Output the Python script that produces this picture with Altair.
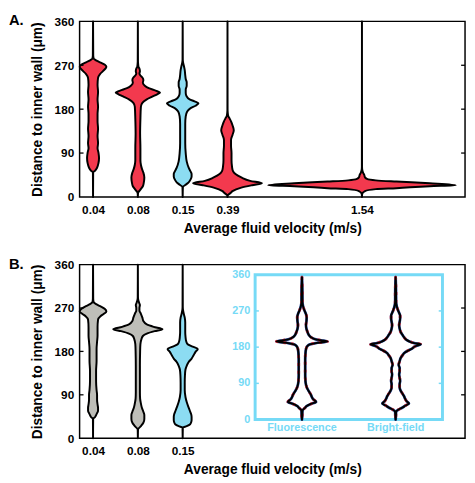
import altair as alt
import pandas as pd

FONT = "Liberation Sans"

# ---------------- data ----------------
VEL_LABELS = ["0.04", "0.08", "0.15", "0.39", "1.54"]
VEL_POS = [1, 2, 3, 4, 7]
XLIM = [0.7, 9.3]
YLIM = [0, 360]
Y_TICKS = [0, 90, 180, 270, 360]
INNER_TICKS = [90, 180, 270]

# Panel A violins: distance values (um) and half-width (relative density)
A1_V = [0, 50, 54, 60, 70, 80, 90, 100, 110, 125, 140, 155, 170, 185, 200, 215, 230, 244, 252, 258, 263, 267, 271, 276, 280, 284, 290, 360]
A1_W = [0, 0.3, 3, 5, 6.5, 7, 6.5, 5.5, 6, 5.5, 6, 5.5, 5.5, 6, 5.5, 6, 5.5, 6, 8, 11, 13.5, 14.5, 13, 8, 4, 1.5, 0.5, 0]
A2_V = [0, 8, 15, 22, 30, 40, 50, 58, 66, 75, 100, 130, 160, 185, 193, 200, 206, 211, 214, 218, 223, 228, 234, 240, 245, 249, 253, 258, 263, 267, 272, 278, 360]
A2_W = [0, 0.5, 3.5, 6, 7, 7.5, 6.5, 5, 4, 3.5, 3.5, 3.2, 3.5, 4, 5.5, 10, 16, 21, 23.5, 19, 12, 8, 6, 6.5, 5.5, 3.5, 2.5, 3, 2.5, 1.5, 0.8, 0.3, 0]
A3_V = [0, 20, 25, 30, 36, 42, 47, 52, 60, 73, 90, 110, 130, 150, 165, 175, 182, 187, 192, 196, 200, 206, 213, 220, 228, 235, 242, 250, 260, 270, 276, 282, 360]
A3_W = [0, 0.5, 4, 7, 9, 10, 10, 9, 7, 5, 4, 3.5, 3.5, 3.5, 4, 5.5, 9, 14, 17, 13, 8, 5, 4, 4, 5, 5, 4, 3.5, 3, 2, 1, 0.3, 0]
A4_V = [0, 3, 8, 12, 19, 24, 28, 33, 40, 47, 53, 62, 75, 90, 105, 117, 127, 137, 147, 155, 161, 167, 174, 180, 360]
A4_W = [0, 0.5, 4, 6, 15, 26, 36, 24, 15, 9, 6.5, 5.5, 5, 5, 4.5, 4.5, 6, 7.3, 6, 4.5, 3, 1.5, 0.5, 0.2, 0]
A5_V = [0, 6, 12, 16, 18, 22, 24, 28, 31.5, 34, 37, 41, 45, 50, 56, 62, 360]
A5_W = [0, 0.5, 4, 15, 36, 70, 96.5, 70, 36, 15, 6, 3.8, 3.3, 2, 0.7, 0.2, 0]

# Panel B violins
B1_V = [0, 40, 44, 50, 57, 63, 70, 80, 90, 100, 118, 140, 160, 185, 200, 213, 230, 246, 253, 258, 263, 268, 273, 278, 283, 290, 360]
B1_W = [0, 0.3, 3, 4.5, 6, 6, 5.5, 5, 5, 4.5, 4, 4, 4.5, 4.5, 5, 5.5, 5.5, 6, 8.5, 12, 14.5, 13, 9, 4, 1.2, 0.4, 0]
B2_V = [0, 18, 25, 32, 40, 48, 55, 63, 72, 82, 95, 120, 150, 180, 195, 205, 212, 217, 222, 226, 231, 236, 243, 250, 258, 265, 270, 276, 282, 288, 293, 360]
B2_W = [0, 0.4, 4, 6.5, 7.5, 7.5, 6.5, 5, 4, 3.2, 3, 3, 3, 3.2, 3.5, 4.5, 6, 10, 18, 26, 17, 10, 6.5, 5.5, 4, 2.5, 2.5, 3, 2, 0.8, 0.3, 0]
B3_V = [0, 22, 25, 29, 33, 38, 44, 50, 58, 66, 75, 85, 100, 115, 130, 142, 150, 158, 165, 172, 179, 185, 190, 195, 201, 210, 220, 230, 240, 250, 258, 266, 272, 360]
B3_W = [0, 0.4, 5, 8.5, 9.5, 10, 10, 9.5, 8, 6.5, 5, 3.8, 3, 3, 3.2, 3.7, 5, 7, 10, 12, 14, 16.3, 11, 6, 4.5, 3.8, 3.5, 3.5, 3.5, 3, 2, 0.8, 0.3, 0]
B_TICK_POS = [1, 2, 3]

# Inset violins (Fluorescence vs Bright-field)
INSET_LABELS = ["Fluorescence", "Bright-field"]
INSET_POS = [1, 2]
INSET_XLIM = [0.5, 2.5]
FL_V = [0, 10, 18, 23, 28, 34, 39, 44, 50, 56, 62, 70, 79, 87, 95, 110, 130, 150, 165, 175, 180, 184, 187, 190, 194, 197, 200, 205, 210, 218, 225, 235, 245, 255, 262, 272, 282, 292, 320, 354]
FL_W = [0, 0.8, 1, 1.5, 3.5, 6, 10, 15.3, 12.5, 11, 10, 8, 6, 5, 4.5, 4.2, 4.2, 4.2, 4.5, 5, 5.7, 7, 9, 15, 27, 20, 14, 10, 8, 6.5, 5.5, 5, 5.5, 5.7, 5, 3.3, 2, 1.2, 1, 0]
BF_V = [0, 10, 16, 20, 25, 30, 35, 40, 46, 52, 58, 64, 72, 80, 88, 96, 104, 112, 120, 128, 136, 145, 153, 160, 166, 172, 177, 181, 184, 187, 190, 194, 198, 203, 210, 218, 226, 235, 243, 251, 258, 265, 272, 282, 292, 320, 354]
BF_W = [0, 0.8, 1, 1.5, 4, 8, 11, 14.5, 12, 10.5, 9.5, 8, 6, 5, 5, 5.5, 5, 4.5, 5, 5, 4, 5, 6, 8, 10, 14, 18, 20, 23, 26.5, 20, 15, 12, 10, 8, 6, 5, 4.5, 5, 5.5, 5.5, 4.5, 3.3, 2, 1.2, 1, 0]

# ---------------- styling ----------------
RED = "#F3394E"
CYAN = "#8CDCF2"
GRAY = "#BEBEB8"
FRAME = "#76DAF6"
KINDS = ["red", "cyan", "gray"]
KIND_COLORS = [RED, CYAN, GRAY]
W = 393
HA = 179
HB = 177
MAIN_SCALE = 1 / 45.7     # density -> x units
INSET_SCALE = 1 / 95.5
EDGE = 0.9                # outline half thickness (density units)
INSET_X_DOMAIN = [-1.374, 2.741]
INSET_Y_DOMAIN = [-46.3, 385.1]


def violin_df(specs, scale):
    rows = []
    for vid, (pos, kind, vs, ws) in enumerate(specs):
        for v, w in zip(vs, ws):
            w = max(w - EDGE, 0) if w > 1.5 else w * 0.4
            rows.append({"id": vid, "kind": kind, "v": v,
                         "lo": pos - w * scale, "hi": pos + w * scale})
    return pd.DataFrame(rows)


dfA = violin_df([
    (VEL_POS[0], "red", A1_V, A1_W),
    (VEL_POS[1], "red", A2_V, A2_W),
    (VEL_POS[2], "cyan", A3_V, A3_W),
    (VEL_POS[3], "red", A4_V, A4_W),
    (VEL_POS[4], "red", A5_V, A5_W),
], MAIN_SCALE)
dfB = violin_df([
    (VEL_POS[0], "gray", B1_V, B1_W),
    (VEL_POS[1], "gray", B2_V, B2_W),
    (VEL_POS[2], "cyan", B3_V, B3_W),
], MAIN_SCALE)
dfI = violin_df([
    (INSET_POS[0], "none", FL_V, FL_W),
    (INSET_POS[1], "none", BF_V, BF_W),
], INSET_SCALE)

label_expr = " : ".join(
    f"datum.value == {p} ? '{l}'" for p, l in zip(VEL_POS, VEL_LABELS)
) + " : ''"


def main_layer(df, letter, tick_pos):
    xs = alt.Scale(domain=XLIM, nice=False, zero=False)
    ys = alt.Scale(domain=YLIM, nice=False, zero=False)
    violins = alt.Chart(df).mark_area(
        orient="horizontal", stroke="black", strokeWidth=2.0,
        strokeJoin="round", interpolate="monotone", fillOpacity=1
    ).encode(
        y=alt.Y("v:Q", scale=ys, axis=alt.Axis(
            values=Y_TICKS, title="Distance to inner wall (μm)", ticks=False,
            domain=False, grid=False, labelPadding=6, titlePadding=10)),
        x=alt.X("lo:Q", scale=xs, axis=alt.Axis(
            values=tick_pos, labelExpr=label_expr, title="Average fluid velocity (m/s)",
            ticks=False, domain=False, grid=False, labelPadding=8, titlePadding=6)),
        x2="hi:Q",
        fill=alt.Fill("kind:N", scale=alt.Scale(domain=KINDS, range=KIND_COLORS), legend=None),
        detail="id:N",
    )
    tdf = pd.DataFrame({"v": INNER_TICKS})
    tl = alt.Chart(tdf).mark_rule(color="black", strokeWidth=1.3).encode(
        y=alt.Y("v:Q", scale=ys), x=alt.value(0), x2=alt.value(4))
    tr = alt.Chart(tdf).mark_rule(color="black", strokeWidth=1.3).encode(
        y=alt.Y("v:Q", scale=ys), x=alt.value(W - 4), x2=alt.value(W))
    lab = alt.Chart(pd.DataFrame({"t": [letter]})).mark_text(
        align="left", baseline="middle", fontSize=15, fontWeight="bold", font=FONT
    ).encode(text="t:N", x=alt.value(-72), y=alt.value(-1))
    return alt.layer(violins, tl, tr, lab)


def inset_layer():
    xs = alt.Scale(domain=INSET_X_DOMAIN, nice=False, zero=False)
    ys = alt.Scale(domain=INSET_Y_DOMAIN, nice=False, zero=False)
    frame = alt.Chart(pd.DataFrame({"x": [INSET_XLIM[0]], "x2": [INSET_XLIM[1]],
                                    "y": [YLIM[0]], "y2": [YLIM[1]]})).mark_rect(
        fillOpacity=0, stroke=FRAME, strokeWidth=3
    ).encode(x=alt.X("x:Q", scale=xs, axis=None), x2="x2:Q",
             y=alt.Y("y:Q", scale=ys, axis=None), y2="y2:Q")

    def outline(color, width, dash=None):
        kw = dict(orient="horizontal", stroke=color, strokeWidth=width,
                  fillOpacity=0, interpolate="monotone", strokeJoin="round")
        if dash:
            kw["strokeDash"] = dash
        return alt.Chart(dfI).mark_area(**kw).encode(
            y=alt.Y("v:Q", scale=ys, axis=None),
            x=alt.X("lo:Q", scale=xs, axis=None), x2="hi:Q", detail="id:N")

    blue = outline("#2B4C9B", 2.8)
    red = outline("#E8303F", 2.8, [3, 5])
    black = outline("black", 2.0)

    tick_len = 0.04
    tdf = pd.DataFrame({"v": INNER_TICKS,
                        "a": [INSET_XLIM[0]] * 3, "b": [INSET_XLIM[0] + tick_len] * 3,
                        "c": [INSET_XLIM[1] - tick_len] * 3, "d": [INSET_XLIM[1]] * 3})
    tl = alt.Chart(tdf).mark_rule(color=FRAME, strokeWidth=1.5).encode(
        y=alt.Y("v:Q", scale=ys, axis=None), x=alt.X("a:Q", scale=xs, axis=None), x2="b:Q")
    tr = alt.Chart(tdf).mark_rule(color=FRAME, strokeWidth=1.5).encode(
        y=alt.Y("v:Q", scale=ys, axis=None), x=alt.X("c:Q", scale=xs, axis=None), x2="d:Q")

    ylab = alt.Chart(pd.DataFrame({"v": Y_TICKS, "x": [INSET_XLIM[0]] * len(Y_TICKS),
                                   "t": [str(t) for t in Y_TICKS]})).mark_text(
        align="right", baseline="middle", dx=-5, color=FRAME, fontWeight="bold",
        fontSize=11, font=FONT
    ).encode(x=alt.X("x:Q", scale=xs, axis=None), y=alt.Y("v:Q", scale=ys, axis=None), text="t:N")
    xlab = alt.Chart(pd.DataFrame({"p": INSET_POS, "v": [YLIM[0]] * 2, "t": INSET_LABELS})).mark_text(
        align="center", baseline="middle", dy=9, color=FRAME, fontWeight="bold",
        fontSize=11, font=FONT
    ).encode(x=alt.X("p:Q", scale=xs, axis=None), y=alt.Y("v:Q", scale=ys, axis=None), text="t:N")
    return alt.layer(frame, blue, red, black, tl, tr, ylab, xlab)


panelA = main_layer(dfA, "A.", VEL_POS).properties(width=W, height=HA)
panelB = alt.layer(main_layer(dfB, "B.", B_TICK_POS), inset_layer()).resolve_scale(
    x="independent", y="independent").properties(width=W, height=HB)

chart = alt.vconcat(panelA, panelB, spacing=20).properties(padding=0).configure_view(
    stroke="black", strokeWidth=1.5
).configure_axis(
    labelFont=FONT, titleFont=FONT, labelFontWeight="bold", titleFontWeight="bold",
    labelFontSize=12, titleFontSize=14, labelColor="black", titleColor="black"
)

chart.save("out.html", embed_options={"renderer": "svg", "actions": False})
